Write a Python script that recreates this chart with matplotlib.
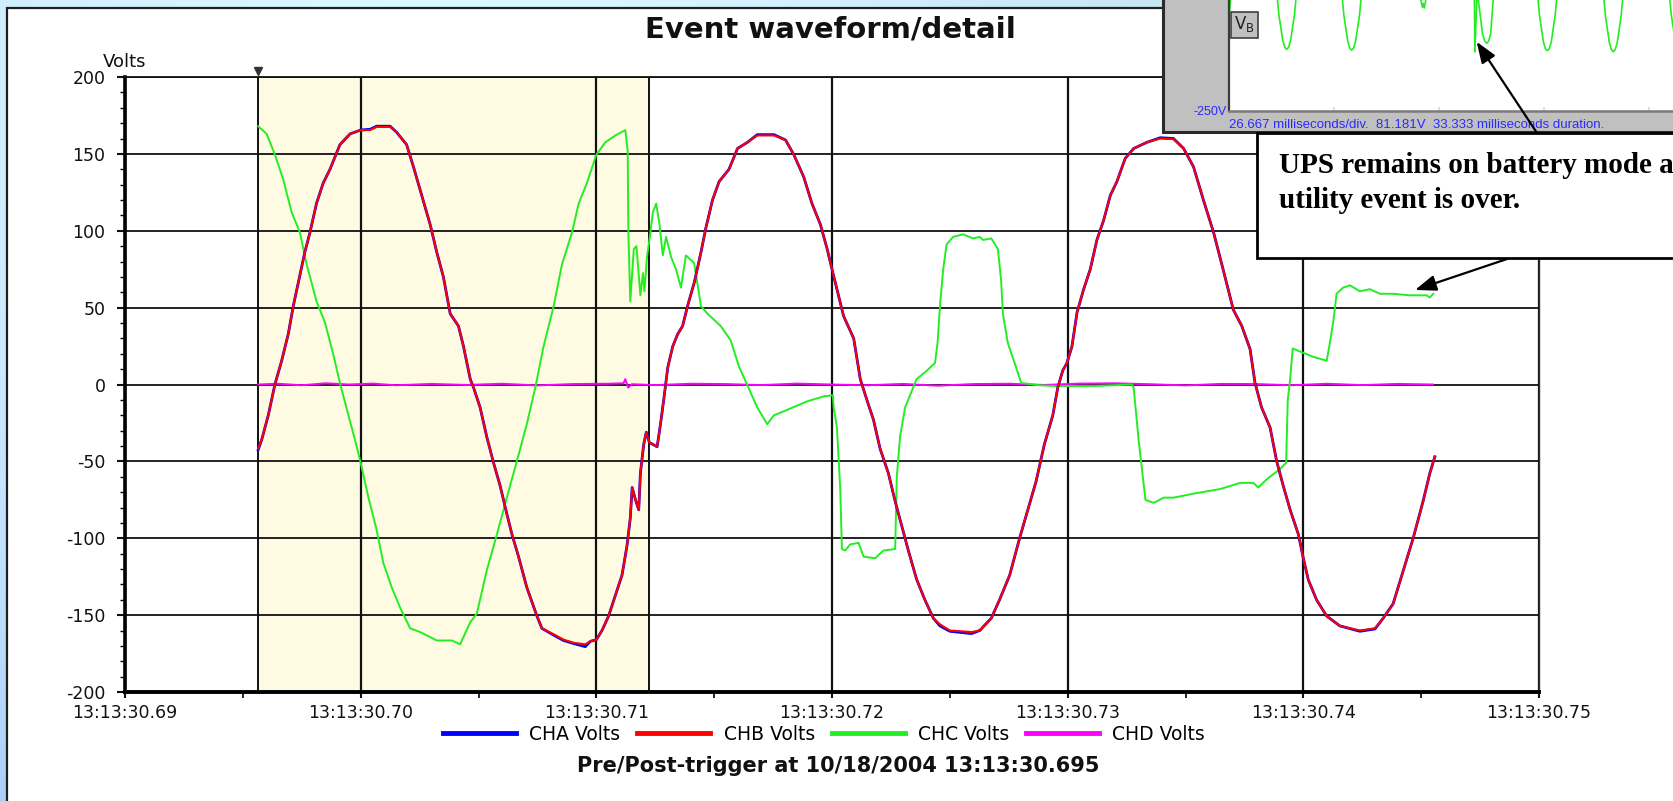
import numpy as np
import matplotlib
matplotlib.use("Agg")
import matplotlib.pyplot as plt
from matplotlib.patches import Rectangle, ConnectionPatch
from matplotlib.lines import Line2D
from matplotlib.ticker import MultipleLocator

plt.rcParams["axes.unicode_minus"] = False

W, H, DPI = 1673, 801, 100

# ---- recorded samples: (seconds after 13:13:30, volts) ----
chb_samples = [
    (.69565, -41.7), (.69580, -36), (.69608, -20), (.69636, 0), (.69664, 15), (.69693, 33),
    (.69714, 51), (.69735, 66), (.69763, 86), (.69785, 99), (.69813, 118), (.69841, 131),
    (.69870, 140), (.69912, 156), (.69955, 163), (.70000, 165.5), (.70040, 165.5), (.70068, 167.6),
    (.70125, 167.6), (.70153, 164), (.70195, 156), (.70224, 141.6), (.70259, 123), (.70295, 104),
    (.70323, 86), (.70351, 70), (.70380, 46), (.70415, 38), (.70436, 25), (.70465, 3.5),
    (.70479, -2), (.70507, -15), (.70535, -34), (.70564, -51), (.70592, -66), (.70620, -84),
    (.70642, -97.5), (.70670, -112), (.70705, -132), (.70748, -150.6), (.70769, -158.6), (.70819, -162.5),
    (.70861, -166), (.70904, -168), (.70953, -169), (.70975, -167), (.71000, -166), (.71024, -160),
    (.71052, -150.6), (.71081, -137), (.71109, -124), (.71130, -105), (.71144, -87), (.71152, -67),
    (.71166, -75), (.71180, -81.5), (.71187, -57.6), (.71201, -39), (.71212, -31), (.71225, -37.7),
    (.71258, -40.5), (.71272, -26), (.71286, -10), (.71303, 11), (.71324, 24.7), (.71345, 32.7),
    (.71366, 38), (.71387, 51), (.71415, 66), (.71444, 86), (.71465, 102), (.71493, 120),
    (.71521, 132), (.71563, 140), (.71599, 153.5), (.71641, 157.5), (.71683, 162), (.71754, 162),
    (.71803, 159), (.71838, 149.5), (.71880, 135), (.71915, 117.7), (.71951, 104), (.71979, 88.4),
    (.72000, 75), (.72021, 62), (.72049, 44.6), (.72092, 30), (.72120, 3.5), (.72148, -10),
    (.72176, -23), (.72204, -41.7), (.72239, -57.6), (.72268, -76), (.72296, -92), (.72324, -108),
    (.72359, -126.7), (.72394, -140), (.72430, -152), (.72458, -156), (.72500, -160), (.72592, -161),
    (.72627, -160), (.72676, -152), (.72711, -140), (.72754, -124), (.72796, -100), (.72831, -81.5),
    (.72866, -63), (.72901, -39), (.72937, -20), (.72958, -2), (.72979, 9), (.72997, 14),
    (.73018, 24.7), (.73040, 47), (.73068, 62), (.73096, 75), (.73124, 94), (.73153, 107),
    (.73181, 123), (.73209, 132), (.73244, 147), (.73280, 153.5), (.73336, 157.5), (.73393, 160),
    (.73449, 159.6), (.73492, 153.5), (.73534, 141.6), (.73576, 120), (.73619, 99), (.73661, 74),
    (.73703, 48.6), (.73739, 38), (.73774, 23), (.73795, 1), (.73823, -15), (.73859, -28),
    (.73887, -50), (.73915, -66), (.73944, -81.5), (.73979, -97.5), (.74000, -113), (.74021, -127),
    (.74056, -140), (.74099, -150.6), (.74155, -157), (.74240, -160), (.74304, -158.6), (.74339, -152),
    (.74381, -142.6), (.74424, -121), (.74466, -100), (.74508, -76), (.74537, -57.6), (.74558, -47),
]

cha_samples = [
    (.69565, -42.5), (.69580, -36), (.69608, -20), (.69636, 0), (.69664, 15), (.69693, 33),
    (.69714, 51), (.69735, 66), (.69763, 86), (.69785, 99), (.69813, 118), (.69841, 131),
    (.69870, 140), (.69912, 156), (.69955, 163), (.70000, 165.5), (.70040, 166), (.70068, 168),
    (.70125, 168), (.70153, 164), (.70195, 156), (.70224, 141.6), (.70259, 123), (.70295, 104),
    (.70323, 86), (.70351, 70), (.70380, 46), (.70415, 38), (.70436, 25), (.70465, 3.5),
    (.70479, -2), (.70507, -15), (.70535, -34), (.70564, -51), (.70592, -66), (.70620, -84),
    (.70642, -97.5), (.70670, -112), (.70705, -132), (.70748, -150.6), (.70769, -158.6), (.70819, -163),
    (.70861, -166.5), (.70904, -168.5), (.70953, -170.5), (.70975, -167), (.71000, -166), (.71024, -160),
    (.71052, -150.6), (.71081, -137), (.71109, -124), (.71130, -105), (.71144, -87), (.71152, -67),
    (.71166, -75), (.71180, -81.5), (.71187, -57.6), (.71201, -39), (.71212, -31), (.71225, -37.7),
    (.71258, -40.5), (.71272, -26), (.71286, -10), (.71303, 11), (.71324, 24.7), (.71345, 32.7),
    (.71366, 38), (.71387, 51), (.71415, 66), (.71444, 86), (.71465, 102), (.71493, 120),
    (.71521, 132), (.71563, 140), (.71599, 153.5), (.71641, 157.5), (.71683, 162.5), (.71754, 162.5),
    (.71803, 159), (.71838, 149.5), (.71880, 135), (.71915, 117.7), (.71951, 104), (.71979, 88.4),
    (.72000, 75), (.72021, 62), (.72049, 44.6), (.72092, 30), (.72120, 3.5), (.72148, -10),
    (.72176, -23), (.72204, -41.7), (.72239, -57.6), (.72268, -76), (.72296, -92), (.72324, -108),
    (.72359, -126.7), (.72394, -140), (.72430, -152), (.72458, -157), (.72500, -160.5), (.72592, -162),
    (.72627, -160), (.72676, -152), (.72711, -140), (.72754, -124), (.72796, -100), (.72831, -81.5),
    (.72866, -63), (.72901, -39), (.72937, -20), (.72958, -2), (.72979, 9), (.72997, 14),
    (.73018, 24.7), (.73040, 47), (.73068, 62), (.73096, 75), (.73124, 94), (.73153, 107),
    (.73181, 123), (.73209, 132), (.73244, 147), (.73280, 153.5), (.73336, 157.5), (.73393, 160.5),
    (.73449, 160), (.73492, 153.5), (.73534, 141.6), (.73576, 120), (.73619, 99), (.73661, 74),
    (.73703, 48.6), (.73739, 38), (.73774, 23), (.73795, 1), (.73823, -15), (.73859, -28),
    (.73887, -50), (.73915, -66), (.73944, -81.5), (.73979, -97.5), (.74000, -113), (.74021, -127),
    (.74056, -140), (.74099, -150.6), (.74155, -157), (.74240, -160.5), (.74304, -159), (.74339, -152),
    (.74381, -142.6), (.74424, -121), (.74466, -100), (.74508, -76), (.74537, -57.6), (.74558, -47),
]

chc_samples = [
    (.69565, 168), (.69601, 163), (.69636, 149.5), (.69671, 133.6), (.69707, 112), (.69742, 99),
    (.69771, 78), (.69813, 54), (.69848, 40.6), (.69884, 19.4), (.69912, 1), (.69948, -20),
    (.69976, -36), (.70000, -51), (.70033, -73.6), (.70068, -94.8), (.70096, -116), (.70132, -132),
    (.70167, -145), (.70210, -158.6), (.70252, -161), (.70323, -166.5), (.70387, -166.5), (.70422, -169),
    (.70465, -154.6), (.70493, -149), (.70535, -121), (.70578, -97.5), (.70620, -73.6), (.70663, -49.7),
    (.70705, -25.8), (.70741, -2), (.70776, 24.7), (.70819, 51), (.70854, 78), (.70897, 99),
    (.70925, 117.7), (.70960, 131), (.71000, 149.5), (.71038, 157.5), (.71081, 162), (.71123, 165.5),
    (.71133, 152), (.71136, 99), (.71144, 54), (.71159, 88), (.71170, 90), (.71187, 58),
    (.71198, 72.5), (.71204, 60.6), (.71215, 83), (.71227, 96), (.71240, 112), (.71254, 117.7),
    (.71268, 104), (.71282, 84), (.71296, 96), (.71317, 83), (.71338, 75), (.71359, 63),
    (.71380, 84), (.71415, 79), (.71444, 51), (.71472, 46), (.71528, 38), (.71570, 28.7),
    (.71606, 11.4), (.71641, -0.5), (.71683, -15), (.71725, -25.8), (.71754, -20), (.71810, -16.5),
    (.71894, -11), (.71965, -7.7), (.72004, -7), (.72007, -15), (.72021, -28), (.72035, -68),
    (.72042, -107), (.72056, -108), (.72077, -104), (.72113, -103), (.72134, -112), (.72183, -113),
    (.72218, -108), (.72268, -107), (.72275, -60), (.72289, -33.7), (.72310, -15), (.72338, -4.5),
    (.72359, 3.5), (.72401, 8.8), (.72437, 14), (.72448, 27), (.72458, 51), (.72472, 75),
    (.72486, 91), (.72514, 96), (.72556, 97.7), (.72599, 95), (.72627, 96), (.72641, 94),
    (.72676, 95), (.72704, 88), (.72718, 67), (.72725, 46), (.72746, 27), (.72775, 14),
    (.72803, 1), (.72880, -0.5), (.72951, -1), (.73110, -1), (.73273, 0), (.73280, -2),
    (.73301, -36), (.73315, -55), (.73330, -75), (.73365, -77), (.73407, -73.6), (.73449, -73.6),
    (.73534, -71), (.73647, -68), (.73732, -64), (.73788, -64), (.73809, -67), (.73845, -61.6),
    (.73901, -55), (.73927, -51), (.73934, -10), (.73944, 3.5), (.73955, 23.4), (.73986, 21.5),
    (.74042, 18), (.74099, 15.4), (.74110, 24.7), (.74127, 40.6), (.74141, 59), (.74169, 63),
    (.74198, 64.5), (.74240, 60.6), (.74282, 62), (.74325, 59), (.74381, 59), (.74452, 58),
    (.74523, 58), (.74537, 56.6), (.74551, 59),
]

chd_samples = [
    (.69565, 0), (.6965, 0.5), (.6975, -0.5), (.6985, 0.8), (.6995, 0), (.7005, 0.6),
    (.7015, -0.5), (.7030, 0.4), (.7045, -0.3), (.7060, 0.5), (.7075, -0.6), (.7090, 0.3),
    (.7105, 0.5), (.71115, 0.8), (.71123, 3.5), (.71135, -2), (.7115, 0.2), (.7125, -0.4),
    (.7140, 0.5), (.7155, 0.3), (.7170, -0.4), (.7185, 0.6), (.7200, 0), (.7215, -0.5),
    (.7230, 0.4), (.7245, -0.8), (.7260, 0.3), (.7275, 0.5), (.7290, -0.3), (.7305, 0.6),
    (.7320, 0.8), (.7335, 0.2), (.7350, -0.6), (.7365, 0.4), (.7380, 0.3), (.7395, -0.5),
    (.7410, 0.5), (.7425, -0.4), (.7440, 0.4), (.7455, 0),
]

series_names = ["CHA Volts", "CHB Volts", "CHC Volts", "CHD Volts"]
series_colors = ["#0000FF", "#FF0000", "#22EE22", "#FF00FF"]

x_ticks = [0.69, 0.70, 0.71, 0.72, 0.73, 0.74, 0.75]
x_tick_labels = ["13:13:30.69", "13:13:30.70", "13:13:30.71", "13:13:30.72",
                 "13:13:30.73", "13:13:30.74", "13:13:30.75"]
y_ticks = [-200, -150, -100, -50, 0, 50, 100, 150, 200]
trigger_window = (0.69565, 0.71222)

# phase-B recorder trace (milliseconds from left edge, volts)
inset_ms = [-1.93, -0.93, 0.07, 2.07,
            10.65, 12.65, 13.65, 14.15, 14.65, 15.15, 15.65, 16.65, 18.65,
            27.16, 29.16, 30.16, 30.66, 31.16, 31.66, 32.16, 33.16, 35.16,
            46.0, 48.5, 49.1, 49.35, 49.6, 50.2, 52.5,
            59.5, 62.3, 62.45, 62.7, 62.95, 63.3, 64.4, 64.95, 65.44, 65.95, 66.45, 67.1, 69.4,
            76.85, 78.85, 79.85, 80.35, 80.85, 81.35, 81.85, 82.85, 84.85,
            93.6, 95.6, 96.6, 97.1, 97.6, 98.1, 98.6, 99.6, 101.6,
            110.3, 112.3, 113.3, 114.3]
inset_volts = [-170, -158, -124, -12,
               -12, -124, -158, -167, -170, -167, -158, -124, -12,
               -12, -125, -159, -168, -171, -168, -159, -125, -12,
               -20, -100, -115, -110, -116, -100, -20,
               -20, -90, -173, -138, -100, -105, -150, -159, -162, -159, -150, -105, -12,
               -12, -125, -160, -169, -171.5, -169, -160, -125, -12,
               -12, -126, -161, -170, -173, -170, -161, -126, -12,
               -12, -124, -158, -170]
inset_ms_per_div = 26.667


def fx(px):
    return px / W


def fy(py):
    return 1.0 - py / H


fig = plt.figure(figsize=(W / DPI, H / DPI), dpi=DPI)

# ---- slide background and white chart panel ----
bg = fig.add_axes([0, 0, 1, 1], zorder=-10)
bg.set_axis_off()
bg.set_xlim(0, W)
bg.set_ylim(H, 0)
yy = np.linspace(0, 1, 200)[:, None]
xx = np.linspace(0, 1, 400)[None, :]
top = np.array([208, 238, 251]) / 255
bottom = np.array([172, 206, 244]) / 255
grad = top[None, None, :] * (1 - yy[..., None]) + bottom[None, None, :] * yy[..., None]
grad = grad + 0.04 * np.sin(6 * xx[..., None] + 3 * yy[..., None])
grad = np.clip(grad * np.ones((200, 400, 1)), 0, 1)
bg.imshow(grad, extent=[0, W, H, 0], aspect="auto", interpolation="bilinear")
bg.add_patch(Rectangle((7.5, 7.5), W + 20, H + 20, facecolor="white",
                       edgecolor="#1e1e1e", lw=1.6))

# ---- main waveform axes ----
ax = fig.add_axes([fx(125), fy(692), fx(1539) - fx(125), fy(77) - fy(692)], zorder=1)
ax.set_xlim(0.69, 0.75)
ax.set_ylim(-200, 200)

ax.axvspan(*trigger_window, color="#FFFBE2", zorder=0.5, lw=0)
for xv in trigger_window:
    ax.axvline(xv, color="#111111", lw=1.4, zorder=1.6)

ax.set_xticks(x_ticks)
ax.set_xticklabels(x_tick_labels)
ax.set_yticks(y_ticks)
ax.xaxis.set_minor_locator(MultipleLocator(0.005))
ax.yaxis.set_minor_locator(MultipleLocator(10))
ax.xaxis.grid(True, which="major", color="#111111", lw=1.6)
ax.yaxis.grid(True, which="major", color="#111111", lw=1.3)

for side, lw, col in [("left", 2.6, "black"), ("bottom", 2.8, "black"),
                      ("top", 1.3, "#111111"), ("right", 1.0, "#333333")]:
    ax.spines[side].set_linewidth(lw)
    ax.spines[side].set_color(col)

ax.tick_params(axis="y", which="major", direction="out", length=6, width=1.5,
               pad=8, labelsize=12.5, colors="#111111")
ax.tick_params(axis="y", which="minor", direction="out", length=3.5, width=1.0)
ax.tick_params(axis="x", which="major", direction="out", length=4, width=1.5,
               pad=5, labelsize=12.5, colors="#111111")
ax.tick_params(axis="x", which="minor", direction="out", length=4, width=1.2)

t_a, v_a = zip(*cha_samples)
t_b, v_b = zip(*chb_samples)
t_c, v_c = zip(*chc_samples)
t_d, v_d = zip(*chd_samples)
ax.plot(t_d, v_d, color=series_colors[3], lw=1.4, zorder=3.0)
ax.plot(t_c, v_c, color=series_colors[2], lw=1.4, zorder=3.2)
ax.plot(t_a, v_a, color=series_colors[0], lw=2.0, zorder=3.4)
ax.plot(t_b, v_b, color=series_colors[1], lw=1.5, zorder=3.6)

# trigger marker above the plot frame
ax.plot([trigger_window[0]], [204], marker="v", ms=6, color="#333333",
        clip_on=False, zorder=5)

fig.text(fx(125), fy(62), "Volts", ha="center", va="center", fontsize=13,
         color="#111111")
fig.text(fx(830), fy(37), "Event waveform/detail", ha="center", va="baseline",
         fontsize=21, fontweight="bold", color="#111111")

handles = [Line2D([], [], color=c, lw=3.5) for c in series_colors]
fig.legend(handles, series_names, loc="center", bbox_to_anchor=(fx(824), fy(734)),
           ncol=4, frameon=False, fontsize=13.5, handlelength=3.9,
           handletextpad=0.7, columnspacing=0.9)

fig.text(fx(838), fy(766), "Pre/Post-trigger at 10/18/2004 13:13:30.695",
         ha="center", va="center", fontsize=15, fontweight="bold", color="#111111")

# ---- recorder inset (top right) ----
gray = Rectangle((fx(1163), fy(132)), 1.0, 1.0, transform=fig.transFigure,
                 facecolor="#C0C0C0", edgecolor="#2a2a2a", lw=2.2, zorder=2)
fig.add_artist(gray)

iax = fig.add_axes([fx(1229), fy(111), 1 - fx(1229), fy(0) - fy(111)], zorder=3)
iax.set_xlim(0, (W - 1229) / 105 * inset_ms_per_div)
iax.set_ylim(-250, -105.6)
iax.plot(inset_ms, inset_volts, color="#22EE22", lw=1.2)
iax.set_xticks([inset_ms_per_div * k for k in range(1, 5)])
iax.set_yticks([])
iax.tick_params(axis="x", direction="in", length=3, width=1.2, color="#D8D8D8",
                labelbottom=False)
iax.spines["top"].set_visible(False)
iax.spines["right"].set_visible(False)
iax.spines["left"].set_color("#3a3a3a")
iax.spines["left"].set_linewidth(1.6)
iax.spines["bottom"].set_color("#7a7a7a")
iax.spines["bottom"].set_linewidth(1.8)

fig.text(fx(1244.5), fy(24.5), r"$\mathregular{V_B}$", ha="center", va="center",
         fontsize=12, color="#222222", zorder=4,
         bbox=dict(boxstyle="square,pad=0.18", fc="#C0C0C0", ec="#404040", lw=1.2))
fig.text(fx(1227), fy(112), "-250V", ha="right", va="center", color="#2A2AFF",
         fontsize=9, family="Liberation Sans", zorder=4)
fig.text(fx(1229), fy(125),
         "26.667 milliseconds/div.  81.181V  33.333 milliseconds duration.",
         ha="left", va="center", color="#2A2AFF", fontsize=9.5,
         family="Liberation Sans", zorder=4)

# ---- call-out box with arrows ----
box = Rectangle((fx(1257), fy(258)), 1.0, fy(133) - fy(258), transform=fig.transFigure,
                facecolor="white", edgecolor="black", lw=2.0, zorder=5)
fig.add_artist(box)
fig.text(fx(1279), fy(173), "UPS remains on battery mode a", ha="left", va="baseline",
         family="Liberation Serif", fontweight="bold", fontsize=21, color="black", zorder=6)
fig.text(fx(1279), fy(208), "utility event is over.", ha="left", va="baseline",
         family="Liberation Serif", fontweight="bold", fontsize=21, color="black", zorder=6)

arrow_style = "-|>,head_length=0.8,head_width=0.3"
a1 = ConnectionPatch(xyA=(fx(1537), fy(133)), coordsA="figure fraction",
                     xyB=(62.9, -160), coordsB=iax.transData,
                     arrowstyle=arrow_style, mutation_scale=16, lw=1.6,
                     color="black", shrinkA=0, shrinkB=0, zorder=7)
fig.add_artist(a1)
a2 = ConnectionPatch(xyA=(fx(1507), fy(259)), coordsA="figure fraction",
                     xyB=(0.74474, 61.5), coordsB=ax.transData,
                     arrowstyle=arrow_style, mutation_scale=16, lw=1.6,
                     color="black", shrinkA=0, shrinkB=0, zorder=7)
fig.add_artist(a2)

fig.savefig("out.png", dpi=DPI)
